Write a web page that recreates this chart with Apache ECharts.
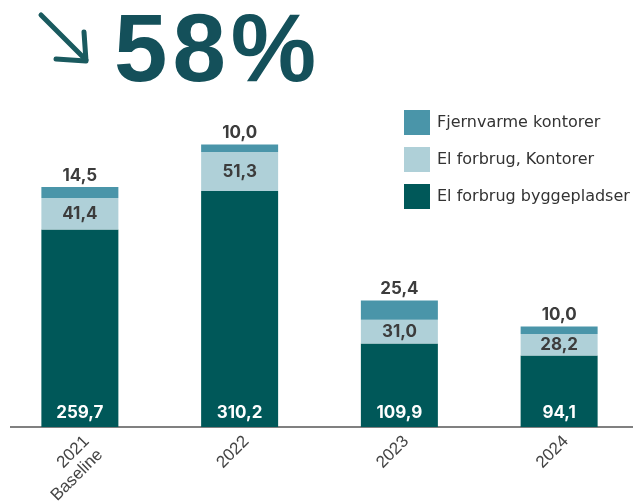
<!DOCTYPE html>
<html><head><meta charset="utf-8">
<script src="https://cdn.jsdelivr.net/npm/echarts@6/dist/echarts.min.js"></script>
<style>html,body{margin:0;padding:0;background:#fff}#c{width:633px;height:501px}</style>
</head><body><div id="c"></div>
<script>
const categories = ['2021\nBaseline', '2022', '2023', '2024'];
const byggepladser = [259.7, 310.2, 109.9, 94.1];
const kontorerEl = [41.4, 51.3, 31.0, 28.2];
const fjernvarme = [14.5, 10.0, 25.4, 10.0];
const seriesNames = ['El forbrug byggepladser', 'El forbrug, Kontorer', 'Fjernvarme kontorer'];
const headline = '58%';

const fmt = v => v.value.toFixed(1).replace('.', ',');
const font = 'Inter, Roboto, "Liberation Sans", sans-serif';

// headline with letter spacing
const hlFont = 'bold 96px "Liberation Sans", Arial, sans-serif';
const cv = document.createElement('canvas').getContext('2d');
cv.font = hlFont;
const hlEls = [];
let hx = 114;
for (const ch of headline) {
  hlEls.push({ type: 'text', x: hx, y: 7, style: { text: ch, font: hlFont, fill: '#14505A' } });
  hx += cv.measureText(ch).width + 5;
}

const chart = echarts.init(document.getElementById('c'));
chart.setOption({
  animation: false,
  textStyle: { fontFamily: font },
  grid: { left: 0, width: 639, bottom: 74, top: 122.8, containLabel: false, outerBoundsMode: 'none' },
  legend: {
    orient: 'vertical', left: 404, top: 110, itemWidth: 26, itemHeight: 25, itemGap: 12, padding: 0,
    data: [seriesNames[2], seriesNames[1], seriesNames[0]],
    textStyle: { fontSize: 16, color: '#333', fontFamily: '"DejaVu Sans", sans-serif', padding: [0, 0, 0, 2] }, icon: 'rect'
  },
  xAxis: {
    type: 'category', data: categories,
    axisLine: { show: false }, axisTick: { show: false },
    axisLabel: { rotate: 45, fontSize: 17, color: '#444', margin: 5, lineHeight: 19, verticalAlign: 'top',
      fontFamily: '"Liberation Sans", Arial, sans-serif' }
  },
  yAxis: { type: 'value', min: 0, max: 400, show: false, splitLine: { show: false } },
  series: [
    { name: seriesNames[0], type: 'bar', stack: 's', data: byggepladser, barWidth: 77,
      itemStyle: { color: '#005859' },
      label: { show: true, position: 'insideBottom', distance: 6, color: '#fff', fontSize: 17, fontWeight: 'bold', fontFamily: font, formatter: fmt } },
    { name: seriesNames[1], type: 'bar', stack: 's', data: kontorerEl,
      itemStyle: { color: '#AFD0D8' },
      label: { show: true, position: 'inside', color: '#3c3c3c', fontSize: 17, fontWeight: 'bold', fontFamily: font, formatter: fmt } },
    { name: seriesNames[2], type: 'bar', stack: 's', data: fjernvarme,
      itemStyle: { color: '#4A95A9' },
      label: { show: true, position: 'top', distance: 3, color: '#3c3c3c', fontSize: 17, fontWeight: 'bold', fontFamily: font, formatter: fmt } }
  ],
  graphic: [
    { type: 'line', shape: { x1: 10, y1: 427, x2: 633, y2: 427 }, style: { stroke: '#808080', lineWidth: 2 } },
    { type: 'polyline', shape: { points: [[41, 15], [86, 60]] }, style: { stroke: '#1a5a5f', lineWidth: 5, lineCap: 'round', fill: null } },
    { type: 'polyline', shape: { points: [[84, 32], [86, 61], [56, 59]] }, style: { stroke: '#1a5a5f', lineWidth: 5, lineCap: 'round', lineJoin: 'round', fill: null } }
  ].concat(hlEls)
});
</script></body></html>
